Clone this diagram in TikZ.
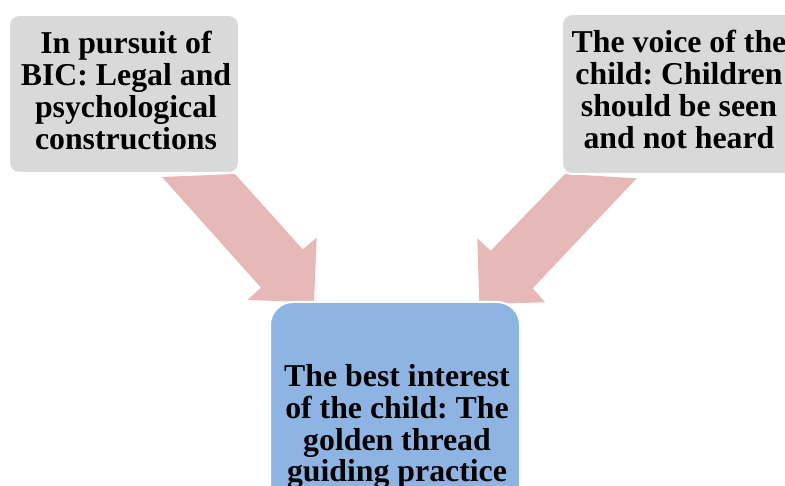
\documentclass[tikz,border=0pt]{standalone}
\usepackage{fontspec}
\setmainfont{Liberation Serif}
\definecolor{boxgrey}{HTML}{D9D9D9}
\definecolor{boxblue}{HTML}{8EB4E3}
\definecolor{arrowpink}{HTML}{E6B9B8}
\newcommand{\mlines}[1]{\begin{tabular}[t]{@{}c@{}}#1\end{tabular}}
\tikzset{
  greybox/.style={rectangle, rounded corners=10pt, fill=boxgrey, draw=white, line width=2pt, inner sep=0pt},
  bluebox/.style={rectangle, rounded corners=23pt, fill=boxblue, draw=white, line width=2pt, inner sep=0pt},
  blockarrow/.style={fill=arrowpink, draw=none},
  boxtext/.style={anchor=base, inner sep=0pt, font=\fontsize{31.8}{31.7}\selectfont\bfseries\frenchspacing}
}
\begin{document}
\begin{tikzpicture}[x=1pt, y=-1pt]
\useasboundingbox (0,0) rectangle (785,486);
\clip (0,0) rectangle (785,486);
% block arrows
\fill[blockarrow] (162,177) -- (235,174) -- (302.7,249.3) -- (316.7,237.7) -- (314,302.3) -- (247.3,300) -- (261,287.7) -- cycle;
\fill[blockarrow] (565,174) -- (636.7,178.3) -- (532.7,288.3) -- (545,302.3) -- (479.3,304.3) -- (477.3,238.3) -- (490.7,250.7) -- cycle;
% boxes
\node[greybox, minimum width=230pt, minimum height=158pt] (left) at (124,94) {};
\node[greybox, minimum width=236pt, minimum height=160pt] (right) at (680,94) {};
\node[bluebox, minimum width=250pt, minimum height=244pt] (bottom) at (395,424) {};
% texts
\node[boxtext] (lefttext) at (126,54) {\mlines{In pursuit of\\BIC: Legal and\\psychological\\constructions}};
\node[boxtext] (righttext) at (679,53) {\mlines{The voice of the\\child: Children\\should be seen\\and not heard}};
\node[boxtext] (bottomtext) at (397,386.5) {\mlines{The best interest\\of the child: The\\golden thread\\guiding practice}};
\end{tikzpicture}
\end{document}
